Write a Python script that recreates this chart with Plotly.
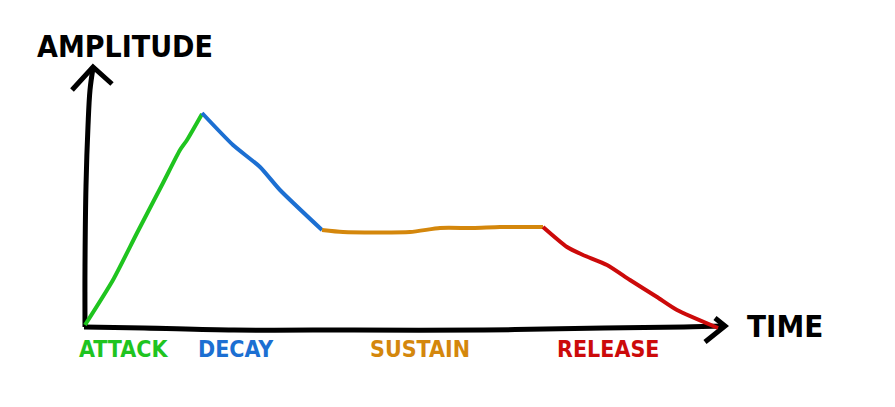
import plotly.graph_objects as go

# ADSR envelope (time, amplitude); origin at bottom-left of axes
attack_t = [1, 29, 53, 79, 96, 103, 118]
attack_a = [1, 46, 93, 143, 176, 186, 212]
decay_t = [118, 149, 176, 196, 238]
decay_a = [213, 181, 159, 136, 96]
sustain_t = [238, 259, 326, 356, 389, 416, 459]
sustain_a = [96, 94, 94, 98, 98, 99, 99]
release_t = [459, 483, 499, 523, 546, 573, 593, 634]
release_a = [99, 79, 71, 61, 46, 29, 16, -2]

# hand-drawn axes
yaxis_t = [1, 1, 2, 4, 6, 9]
yaxis_a = [-1, 60, 140, 200, 236, 258]
yarrow_t = [-12, 9, 28]
yarrow_a = [236, 259, 242]
xaxis_t = [0, 60, 150, 270, 400, 520, 600, 641]
xaxis_a = [-1, -2, -4, -4, -4, -2, -1, 0]
xarrow_t = [631, 641, 621]
xarrow_a = [8, 0, -16]

phase_labels = ["ATTACK", "DECAY", "SUSTAIN", "RELEASE"]
phase_label_t = [39, 152, 336, 524]
phase_colors = ["#1fc41f", "#1c6fd2", "#d4870c", "#cc0a0a"]
axis_titles = ["AMPLITUDE", "TIME"]

fig = go.Figure()

black = "#000000"
for xs, ys, shp in [(yaxis_t, yaxis_a, "spline"), (yarrow_t, yarrow_a, "linear"),
                    (xaxis_t, xaxis_a, "spline"), (xarrow_t, xarrow_a, "linear")]:
    fig.add_trace(go.Scatter(x=xs, y=ys, mode="lines", line=dict(color=black, width=5, shape=shp),
                             hoverinfo="skip", showlegend=False))

segments = [(attack_t, attack_a), (decay_t, decay_a), (sustain_t, sustain_a), (release_t, release_a)]
for (xs, ys), name, col in zip(segments, phase_labels, phase_colors):
    fig.add_trace(go.Scatter(x=xs, y=ys, mode="lines", name=name,
                             line=dict(color=col, width=4, shape="spline", smoothing=0.6),
                             showlegend=False))

font_family = "DejaVu Sans Condensed, DejaVu Sans"
for name, t, col in zip(phase_labels, phase_label_t, phase_colors):
    fig.add_annotation(x=t, y=-23, text="<b>" + name + "</b>", showarrow=False,
                       font=dict(family=font_family, size=23, color=col))

fig.add_annotation(x=41, y=280, text="<b>" + axis_titles[0] + "</b>", showarrow=False,
                   font=dict(family=font_family, size=30, color=black))
fig.add_annotation(x=701, y=0, text="<b>" + axis_titles[1] + "</b>", showarrow=False,
                   font=dict(family=font_family, size=31, color=black))

# page body has an 8px margin: figure is 16px smaller and ranges are set so that
# the drawing lines up with the 895x407 window
fig.update_layout(
    width=879, height=391,
    margin=dict(l=0, r=0, t=0, b=0),
    paper_bgcolor="white", plot_bgcolor="white",
    xaxis=dict(range=[-76, 803], visible=False, fixedrange=True),
    yaxis=dict(range=[-73, 318], visible=False, fixedrange=True),
)

fig.write_html("out.html")
